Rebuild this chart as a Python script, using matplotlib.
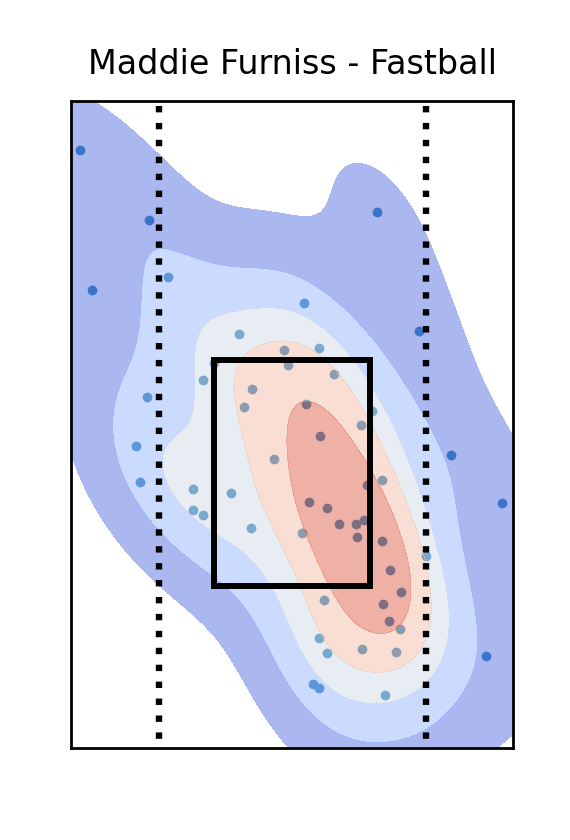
import numpy as np
import pandas as pd
import seaborn as sns

import matplotlib
matplotlib.use('Agg')
import matplotlib.pyplot as plt
from matplotlib.patches import Rectangle

pitcher = 'Maddie Furniss'
pitch_type = 'Fastball'

# pitch locations (feet)
plate_x = [-1.92, -1.30, -1.81, -1.12, 0.77, 0.11, 1.15, -0.48, -0.07, 0.24,
           -0.04, -0.71, 0.38, -0.81, -0.36, -1.31, -0.44, 0.13, 0.72, 0.62,
           0.25, -1.41, -0.16, 1.44, -1.38, -0.90, -0.55, -0.90, -0.81, -0.37,
           0.09, 0.81, 0.68, 1.90, 0.15, 0.32, 0.42, 0.58, 0.65, 0.59,
           0.81, 1.21, 0.89, 0.99, 0.29, 0.82, 0.88, 0.98, 0.24, 0.63,
           0.94, 0.32, 1.76, 0.19, 0.24, 0.84]
plate_z = [4.62, 4.08, 3.54, 3.64, 4.14, 3.44, 3.22, 3.20, 3.07, 3.09,
           2.96, 2.97, 2.89, 2.84, 2.77, 2.71, 2.63, 2.66, 2.60, 2.49,
           2.41, 2.33, 2.23, 2.26, 2.05, 2.00, 1.97, 1.84, 1.80, 1.70,
           1.66, 2.07, 2.03, 1.89, 1.90, 1.85, 1.73, 1.73, 1.76, 1.63,
           1.60, 1.48, 1.37, 1.20, 1.14, 1.11, 0.98, 0.92, 0.85, 0.76,
           0.74, 0.73, 0.71, 0.49, 0.46, 0.41]

zone_left, zone_right = -0.708, 0.708
zone_bot, zone_top = 1.25, 3.0
edge_lines = [-1.208, 1.208]
x_lim = (-2, 2)
y_lim = (0, 5)

df = pd.DataFrame({'plate_x': plate_x, 'plate_z': plate_z})

fig, ax = plt.subplots(figsize=(5.7, 8.4), dpi=100)

ax.scatter(df.plate_x, df.plate_z, s=36, color='C0', zorder=1)
sns.kdeplot(data=df, x='plate_x', y='plate_z', fill=True, cmap='coolwarm',
            levels=6, alpha=0.5, ax=ax, zorder=2)

# edges of the plate plus a ball width, drawn top down
for xv in edge_lines:
    ax.plot([xv, xv], [y_lim[1], y_lim[0]], color='black',
             linestyle=(1.87, (1, 1.65)), linewidth=4.6, zorder=3)

ax.add_patch(Rectangle((zone_left, zone_bot), zone_right - zone_left,
                       zone_top - zone_bot, fill=False, edgecolor='black',
                       linewidth=4.3, zorder=4))

ax.set_xlim(*x_lim)
ax.set_ylim(*y_lim)
ax.set_xticks([])
ax.set_yticks([])
ax.set_xlabel('')
ax.set_ylabel('')
for sp in ax.spines.values():
    sp.set_linewidth(2)

ax.set_title(f'{pitcher} - {pitch_type}', fontsize=24, pad=19)

plt.savefig('out.png', dpi=100)
